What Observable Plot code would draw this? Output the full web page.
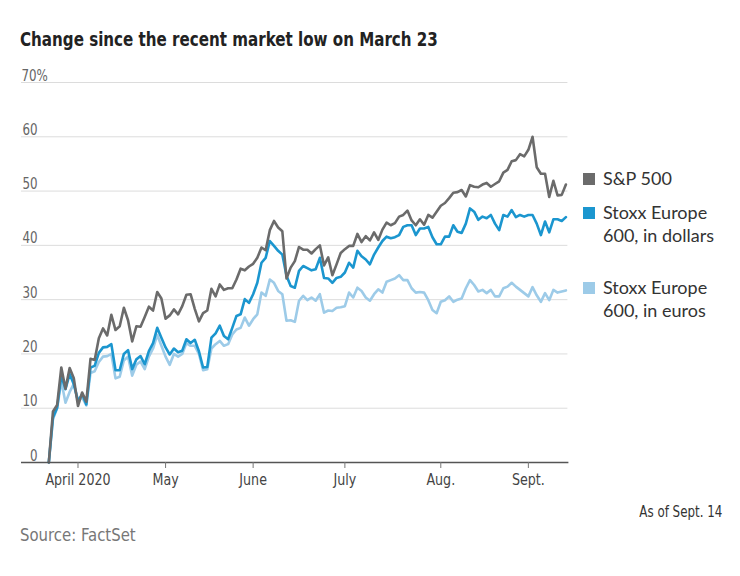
<!DOCTYPE html>
<html>
<head>
<meta charset="utf-8">
<script src="https://cdn.jsdelivr.net/npm/d3@7"></script>
<script src="https://cdn.jsdelivr.net/npm/@observablehq/plot@0.6"></script>
<style>
  html, body { margin: 0; padding: 0; background: #fff; }
  #wrap { position: relative; width: 740px; height: 576px; overflow: hidden; }
  .narrow { font-family: "DejaVu Sans Condensed", "DejaVu Sans", sans-serif; display: inline-block; white-space: nowrap; }
  #title { position: absolute; left: 20px; top: 27px; font-size: 20px; font-weight: bold; color: #222; transform: scaleX(0.84); transform-origin: left center; }
  #chart { position: absolute; left: 0; top: 60px; }
  .leg { position: absolute; left: 583px; font-family: Lato, "Open Sans", sans-serif; font-size: 18px; color: #333; line-height: 23.5px; }
  .sw { position: absolute; left: 0; width: 12px; height: 12px; }
  .lt { position: absolute; left: 20px; white-space: nowrap; }
  #asof { position: absolute; right: 18px; top: 503px; font-size: 15px; color: #333; transform: scaleX(0.88); transform-origin: right center; }
  #source { position: absolute; left: 20px; top: 525px; font-size: 17px; color: #777; transform: scaleX(0.975); transform-origin: left center; }
</style>
</head>
<body>
<div id="wrap">
  <div id="title" class="narrow">Change since the recent market low on March 23</div>
  <div id="chart"></div>
  <div id="legend"></div>
  <div id="asof" class="narrow">As of Sept. 14</div>
  <div id="source" class="narrow">Source: FactSet</div>
</div>
<script>
// Trading days (union of U.S. and European sessions), 2020
const dates = [
  "03-23","03-24","03-25","03-26","03-27","03-30","03-31",
  "04-01","04-02","04-03","04-06","04-07","04-08","04-09","04-13","04-14","04-15","04-16","04-17","04-20","04-21","04-22","04-23","04-24","04-27","04-28","04-29","04-30",
  "05-01","05-04","05-05","05-06","05-07","05-08","05-11","05-12","05-13","05-14","05-15","05-18","05-19","05-20","05-21","05-22","05-25","05-26","05-27","05-28","05-29",
  "06-01","06-02","06-03","06-04","06-05","06-08","06-09","06-10","06-11","06-12","06-15","06-16","06-17","06-18","06-19","06-22","06-23","06-24","06-25","06-26","06-29","06-30",
  "07-01","07-02","07-03","07-06","07-07","07-08","07-09","07-10","07-13","07-14","07-15","07-16","07-17","07-20","07-21","07-22","07-23","07-24","07-27","07-28","07-29","07-30","07-31",
  "08-03","08-04","08-05","08-06","08-07","08-10","08-11","08-12","08-13","08-14","08-17","08-18","08-19","08-20","08-21","08-24","08-25","08-26","08-27","08-28","08-31",
  "09-01","09-02","09-03","09-04","09-07","09-08","09-09","09-10","09-11","09-14"
];

// % change since March 23
const sp500 = [
  0,9.4,10.6,17.5,13.6,17.4,15.5,
  10.4,12.9,11.2,19.1,18.9,22.9,24.7,23.4,27.2,24.4,25.1,28.5,26.2,22.3,25.1,25.0,26.8,28.7,28.0,31.4,30.2,
  26.5,27.1,28.2,27.3,28.8,30.9,31.0,28.3,26.0,27.5,28.0,32.0,30.6,32.8,31.8,32.1,32.1,33.7,35.7,35.4,36.1,
  36.6,37.7,39.6,39.1,42.8,44.5,43.3,42.6,33.9,35.9,37.1,39.7,39.2,39.2,38.5,39.3,40.0,36.3,37.8,34.5,36.5,38.6,
  39.3,39.9,39.9,42.1,40.6,41.7,40.9,42.4,41.0,42.9,44.2,43.7,44.1,45.3,45.6,46.4,44.6,43.7,44.8,43.8,45.6,45.1,46.2,
  47.3,47.8,48.7,49.7,49.8,50.2,49.0,51.1,50.8,50.7,51.2,51.5,50.8,51.3,51.8,53.4,53.9,55.5,55.7,56.8,56.4,
  57.6,60.0,54.4,53.2,53.2,48.9,51.9,49.2,49.3,51.2
];
const stoxxUSD = [
  0,8.3,10.1,16.0,13.5,16.3,14.4,
  11.3,12.6,10.7,17.5,17.8,20.2,21.2,21.3,21.8,17.0,17.0,20.0,20.7,17.2,19.0,19.6,18.1,20.5,22.0,24.8,23.0,
  21.2,19.9,21.0,20.3,20.6,22.7,22.0,22.6,20.5,17.5,17.6,23.0,23.8,25.2,23.3,22.7,24.8,27.0,27.3,30.1,29.4,
  31.0,33.1,36.8,37.7,40.8,39.9,39.0,38.3,34.4,32.5,32.2,35.3,36.2,35.8,35.4,35.6,37.7,34.0,33.9,33.1,34.0,34.2,
  35.0,36.8,35.9,39.0,38.0,37.4,36.5,38.3,39.6,40.8,41.6,41.3,41.5,41.9,43.4,43.7,43.7,41.9,43.1,43.1,43.4,41.5,40.2,
  40.2,41.6,41.6,43.7,42.5,42.3,44.0,46.8,46.2,44.7,45.3,45.0,45.6,44.0,42.8,45.6,45.3,46.5,45.2,45.6,45.3,
  45.6,45.6,44.0,41.9,44.4,42.4,44.8,44.8,44.5,45.2
];
const stoxxEUR = [
  0,8.0,10.0,15.0,11.0,13.0,14.5,
  11.5,12.0,10.5,16.5,16.8,18.5,19.5,19.6,20.0,15.5,15.8,18.8,19.5,16.0,18.0,18.6,17.2,19.5,21.0,23.5,21.5,
  19.5,18.0,20.0,19.5,20.0,22.0,21.5,21.5,20.0,17.0,17.2,21.0,21.8,22.4,21.5,21.8,23.6,24.5,24.8,26.7,25.2,
  26.4,27.3,31.3,30.7,33.7,33.1,31.6,31.0,26.1,26.2,25.9,29.8,30.7,29.9,30.4,29.8,31.0,27.6,28.0,27.9,28.5,28.6,
  28.8,31.3,30.4,32.2,31.6,30.4,29.8,31.0,31.9,31.3,33.3,33.6,33.9,34.5,33.6,33.6,32.1,31.3,31.4,31.3,29.9,28.1,27.5,
  29.6,29.9,30.6,29.6,30.0,30.2,32.1,33.6,32.7,31.5,31.8,31.2,31.8,30.6,30.6,32.1,32.4,33.1,32.4,31.8,31.2,
  30.6,32.3,30.8,29.6,31.2,29.9,31.8,31.3,31.5,31.7
];

const seriesNames = ["S&P 500", "Stoxx Europe 600, in dollars", "Stoxx Europe 600, in euros"];
const seriesColors = ["#6b6b6b", "#1b96cf", "#9dcbe8"];
const legendLines = [["S&P 500"], ["Stoxx Europe", "600, in dollars"], ["Stoxx Europe", "600, in euros"]];

const yTicks = [0, 10, 20, 30, 40, 50, 60, 70];
const yTop = 70;
const monthKeys = ["04", "05", "06", "07", "08", "09"];
const monthLabels = ["April 2020", "May", "June", "July", "Aug.", "Sept."];

const seriesValues = [sp500, stoxxUSD, stoxxEUR];
const rowsFor = (k) => seriesValues[k].map((v, i) => ({i, date: dates[i], v, name: seriesNames[k]}));
const tickIdx = monthKeys.map(m => dates.findIndex(d => d.startsWith(m)));
const tickLabel = new Map(tickIdx.map((t, j) => [t, monthLabels[j]]));

const font = "DejaVu Sans Condensed, DejaVu Sans, sans-serif";
const mL = 48.3, xEnd = 565.4;

const chart = Plot.plot({
  width: 740,
  height: 440,
  marginLeft: mL,
  marginRight: 740 - xEnd,
  marginTop: 22,
  marginBottom: 38,
  style: {fontFamily: font, background: "transparent", overflow: "visible"},
  x: {type: "linear", domain: [0, dates.length - 1], axis: null, label: null},
  y: {domain: [0, yTop], axis: null, label: null},
  marks: [
    Plot.ruleY(yTicks.filter(d => d > 0), {stroke: "#dcdcdc", strokeWidth: 1, insetLeft: -(mL - 21), insetRight: -2}),
    Plot.text(yTicks.filter(d => d !== yTop), {y: d => d, frameAnchor: "left", dx: 37 - mL, dy: -2, lineAnchor: "bottom", textAnchor: "end", text: d => String(d), fontSize: 15, fill: "#666"}),
    Plot.text([yTop], {y: d => d, frameAnchor: "left", dx: 21 - mL, dy: -2, lineAnchor: "bottom", textAnchor: "start", text: d => d + "%", fontSize: 15, fill: "#666"}),
    Plot.line(rowsFor(2), {x: "i", y: "v", stroke: seriesColors[2], strokeWidth: 2.6, strokeLinejoin: "round"}),
    Plot.line(rowsFor(1), {x: "i", y: "v", stroke: seriesColors[1], strokeWidth: 2.6, strokeLinejoin: "round"}),
    Plot.line(rowsFor(0), {x: "i", y: "v", stroke: seriesColors[0], strokeWidth: 2.6, strokeLinejoin: "round"}),
    Plot.ruleY([0], {stroke: "#555", strokeWidth: 1.6, insetLeft: -(mL - 21), insetRight: -3}),
    Plot.axisX({ticks: tickIdx, tickFormat: t => tickLabel.get(t), label: null, tickSize: 6, tickPadding: 5, fontSize: 16, color: "#444", stroke: "#777", strokeWidth: 1})
  ]
});
document.getElementById("chart").appendChild(chart);

// Condense SVG text glyphs in place (narrow news-style face)
chart.querySelectorAll("text").forEach(t => {
  if (t.querySelector("tspan")) return;
  const len = t.getComputedTextLength();
  if (len > 0) {
    t.setAttribute("textLength", (len * 0.88).toFixed(2));
    t.setAttribute("lengthAdjust", "spacingAndGlyphs");
  }
});

// Legend
const legTops = [166.5, 200.5, 275.5];
const legend = document.getElementById("legend");
seriesNames.forEach((name, k) => {
  const g = document.createElement("div");
  g.className = "leg";
  g.style.top = legTops[k] + "px";
  const sw = document.createElement("div");
  sw.className = "sw";
  sw.style.background = seriesColors[k];
  sw.style.top = "6px";
  g.appendChild(sw);
  legendLines[k].forEach((line, j) => {
    const t = document.createElement("div");
    t.className = "lt";
    t.style.top = (j * 23.5) + "px";
    t.textContent = line;
    g.appendChild(t);
  });
  legend.appendChild(g);
});
</script>
</body>
</html>
